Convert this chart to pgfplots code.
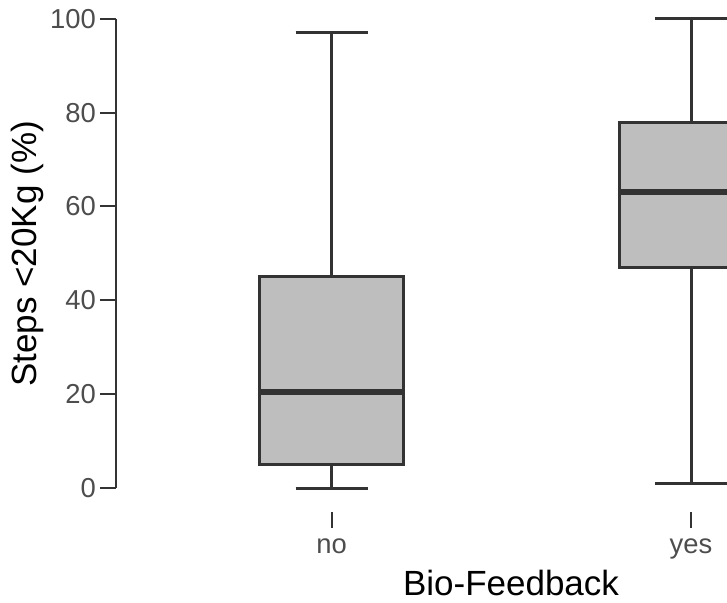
\documentclass[border=0pt]{standalone}
\usepackage{fontspec}
\setmainfont{Liberation Sans}
\usepackage{pgfplots}
\pgfplotsset{compat=1.18}
\usepgfplotslibrary{statistics}
\definecolor{boxfill}{HTML}{BEBEBE}
\definecolor{boxline}{HTML}{333333}
\definecolor{ticktext}{HTML}{4D4D4D}

\begin{document}
\begin{tikzpicture}
\begin{axis}[
    name=ax,
    scale only axis,
    width=305.5pt, height=256pt,
    xmin=-0.6, xmax=1.1,
    ymin=-5.1, ymax=104,
    axis lines*=left,
    axis line style={draw=none},
    xtick={0,1},
    xticklabels={no,yes},
    ytick={0,20,...,100},
    tick align=outside,
    major tick length=8pt,
    tick style={boxline, line width=1pt},
    ticklabel style={font=\fontsize{13.7}{16}\selectfont, text=ticktext},
    yticklabel style={xshift=1.5pt},
    xticklabel style={yshift=-2pt},
    /pgf/number format/assume math mode=true,
    xlabel={Bio-Feedback},
    ylabel={Steps <20Kg (\%)},
    label style={font=\fontsize{17.5}{20}\selectfont},
    xlabel style={at={(axis description cs:0.6465,-0.1387)}, anchor=center},
    ylabel style={at={(axis description cs:-0.1457,0.504)}, anchor=center},
    boxplot/draw direction=y,
]
% no
\addplot[boxplot prepared={draw position=0,
    lower whisker=0, lower quartile=5, median=20.5,
    upper quartile=45, upper whisker=97,
    box extend=0.4, whisker extend=0.2,
    every median/.style={line width=3pt}},
    draw=boxline, fill=boxfill, line width=1.5pt] coordinates {};
% yes
\addplot[boxplot prepared={draw position=1,
    lower whisker=1, lower quartile=47, median=63,
    upper quartile=78, upper whisker=100,
    box extend=0.4, whisker extend=0.2,
    every median/.style={line width=3pt}},
    draw=boxline, fill=boxfill, line width=1.5pt] coordinates {};
\coordinate (y0) at (axis cs:-0.6,0);
\coordinate (y100) at (axis cs:-0.6,100);
\end{axis}
\draw[boxline, line width=1pt] (y0) -- (y100);
\pgfresetboundingbox
\path ([shift={(-58pt,-45.5pt)}]ax.south west) rectangle (ax.north east);
\end{tikzpicture}
\end{document}
